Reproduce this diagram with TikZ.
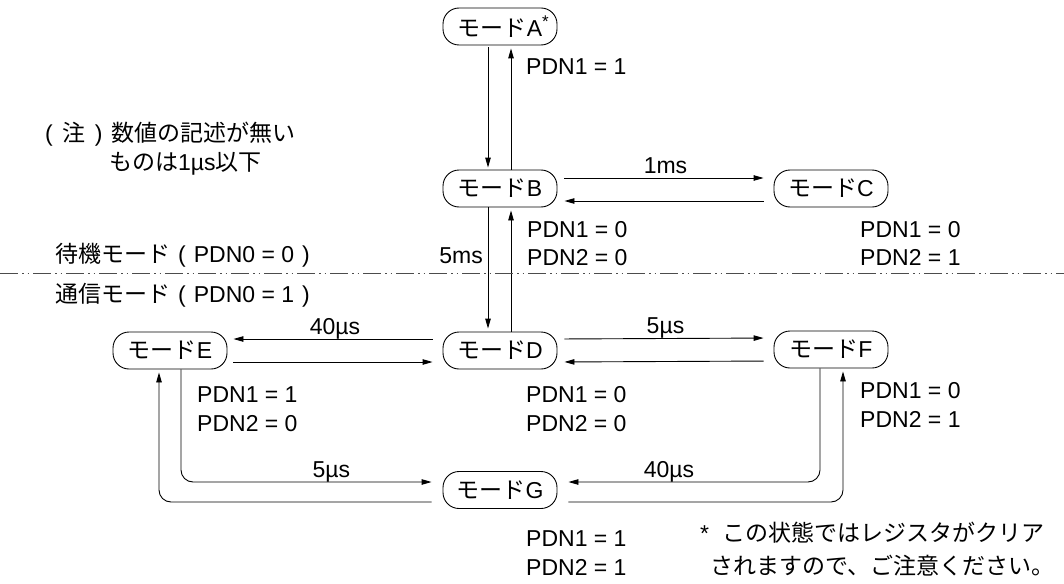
\documentclass[tikz,border=0pt]{standalone}
\usepackage{fontspec}
\setmainfont{Liberation Sans}
\newfontfamily\jpf{Noto Sans CJK JP}
\newcommand\J[1]{{\jpf #1}}
\newcommand\LPr{\hspace{8pt}(\hspace{8pt}}
\newcommand\RPr{\hspace{8pt})}
\usetikzlibrary{arrows.meta}
\begin{document}
\begin{tikzpicture}[x=1pt,y=-1pt,
  every node/.style={font=\fontsize{23}{27}\selectfont, inner sep=0pt},
  mode/.style={draw, line width=0.9pt, rounded corners=16pt, minimum width=114pt, minimum height=37pt},
  conn/.style={line width=0.9pt, -{Triangle[length=10pt,width=5.5pt]}},
  txt/.style={anchor=base west},
  lbl/.style={anchor=base, yshift=5pt},
  sep/.style={line width=0.8pt, black!70, dash pattern=on 18pt off 4pt on 1.5pt off 4pt on 1.5pt off 4pt}
  ]
\useasboundingbox (0,0) rectangle (1064,583);

% mode nodes
\node[mode] (A) at (500,26.5) {\J{モード}A\rlap{\raisebox{9pt}{\fontsize{17}{17}\selectfont *}}};
\node[mode] (B) at (500,188.5) {\J{モード}B};
\node[mode] (C) at (831,188.5) {\J{モード}C};
\node[mode] (D) at (500,350.5) {\J{モード}D};
\node[mode] (E) at (170,350.5) {\J{モード}E};
\node[mode] (F) at (831,349.5) {\J{モード}F};
\node[mode] (G) at (500,490) {\J{モード}G};

% A <-> B
\draw[conn, shorten <=2pt, shorten >=2pt] ([xshift=-12pt]A.south) -- ([xshift=-12pt]B.north);
\draw[conn, shorten >=3pt] ([xshift=11pt]B.north) -- ([xshift=11pt]A.south);

% B <-> C
\draw[conn, shorten <=7pt, shorten >=10pt] ([yshift=10.5pt]B.east) -- node[lbl, midway]{1ms} ([yshift=10.5pt]C.west);
\draw[conn, shorten <=10pt, shorten >=7pt] ([yshift=-12.5pt]C.west) -- ([yshift=-12.5pt]B.east);

% B <-> D
\draw[conn, shorten >=3pt] ([xshift=-12pt]B.south) -- ([xshift=-12pt]D.north);
\draw[conn, shorten >=3pt] ([xshift=11pt]D.north) -- ([xshift=11pt]B.south);

% D <-> E
\draw[conn, shorten <=10pt, shorten >=6pt] ([yshift=11.5pt]D.west) -- node[lbl, midway]{40µs} ([yshift=11.5pt]E.east);
\draw[conn, shorten <=6pt, shorten >=10pt] ([yshift=-11.5pt]E.east) -- ([yshift=-11.5pt]D.west);

% D <-> F
\draw[conn, shorten <=7pt, shorten >=10pt] ([yshift=11.5pt]D.east) -- node[lbl, midway]{5µs} ([yshift=11.5pt]F.west);
\draw[conn, shorten <=10pt, shorten >=7pt] ([yshift=-11.5pt]F.west) -- ([yshift=-11.5pt]D.east);

% E <-> G
\draw[conn, rounded corners=12pt] ([xshift=11pt]E.south) |- node[lbl, pos=0.8]{5µs} ([yshift=8pt,xshift=-11pt]G.west);
\draw[conn, rounded corners=12pt, shorten >=3pt] ([yshift=-12pt,xshift=-11pt]G.west) -| ([xshift=-11pt]E.south);

% F <-> G
\draw[conn, rounded corners=12pt] ([xshift=-11pt]F.south) |- node[lbl, pos=0.8]{40µs} ([yshift=8pt,xshift=11pt]G.east);
\draw[conn, rounded corners=12pt, shorten >=3pt] ([yshift=-12pt,xshift=11pt]G.east) -| ([xshift=12pt]F.south);

% separator
\draw[sep] (0,273) -- (1064,273);

% texts
\node[txt] (pa) at (526,75) {PDN1 = 1};
\node[txt] (pb1) at (527,237) {PDN1 = 0};
\node[txt] (pb2) at (527,265) {PDN2 = 0};
\node[txt] (pc1) at (860,237) {PDN1 = 0};
\node[txt] (pc2) at (860,265) {PDN2 = 1};
\node[txt] (pd1) at (526,402) {PDN1 = 0};
\node[txt] (pd2) at (526,431) {PDN2 = 0};
\node[txt] (pe1) at (197,402) {PDN1 = 1};
\node[txt] (pe2) at (197,431) {PDN2 = 0};
\node[txt] (pf1) at (860,398) {PDN1 = 0};
\node[txt] (pf2) at (860,427) {PDN2 = 1};
\node[txt] (pg1) at (526,546) {PDN1 = 1};
\node[txt] (pg2) at (526,575) {PDN2 = 1};
\node[anchor=base east] (ms5) at (483,263) {5ms};

\node[txt] (stby) at (55,262) {\J{待機モード}\LPr PDN0 = 0\RPr};
\node[txt] (comm) at (55,302) {\J{通信モード}\LPr PDN0 = 1\RPr};
\node[txt] (note1) at (45,141) {(\hspace{9.5pt}\J{注}\hspace{9.5pt})\hspace{9pt}\J{数値の記述が無い}};
\node[txt] (note2) at (109,170) {\J{ものは}1µs\J{以下}};

\node[txt] (ast1) at (700,541) {*\hspace{13pt}\J{この状態ではレジスタがクリア}};
\node[txt] (ast2) at (710,574) {\J{されますので、ご注意ください。}};
\end{tikzpicture}
\end{document}
